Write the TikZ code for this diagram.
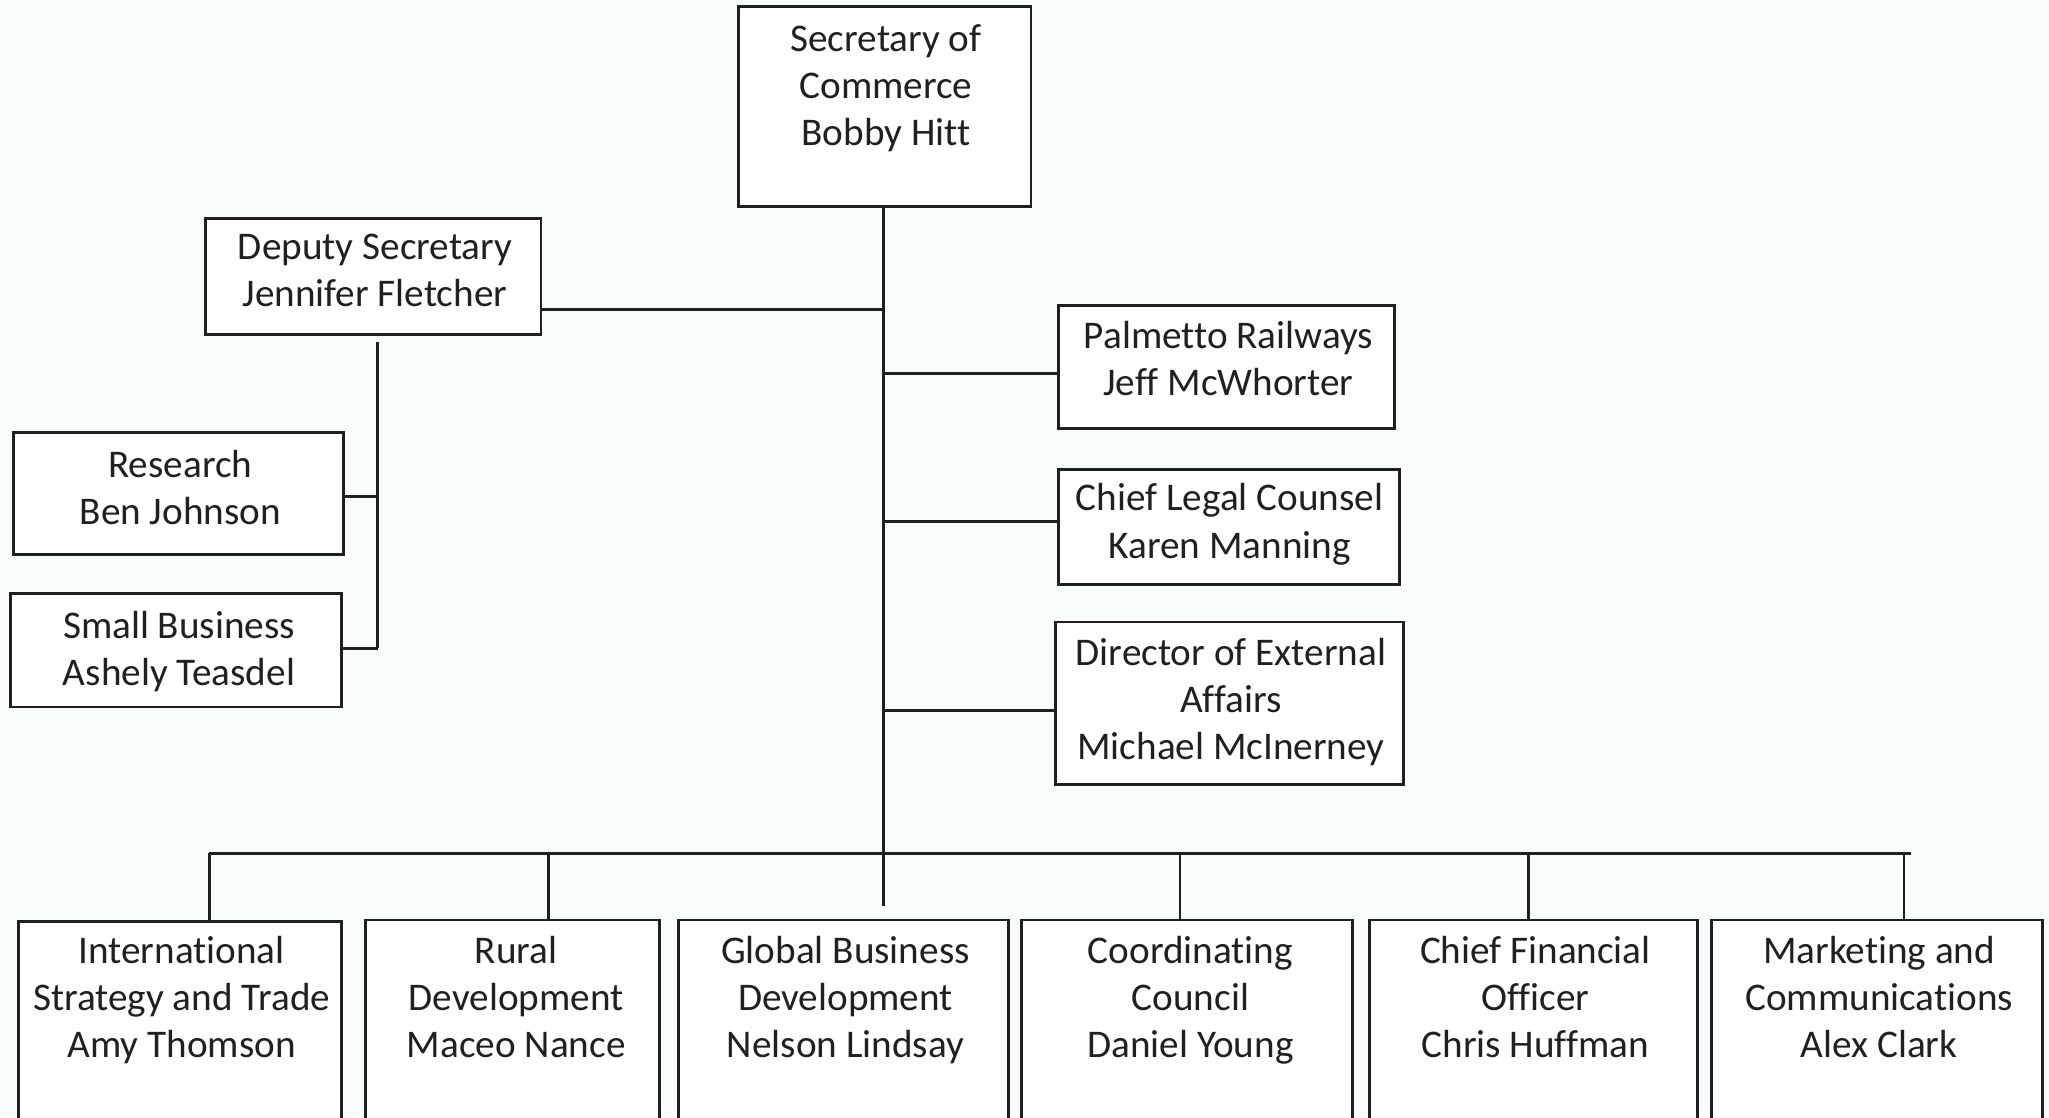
\documentclass[tikz,border=0pt]{standalone}
\usepackage{fontspec}
\setmainfont{Carlito}[Ligatures=NoCommon]
\definecolor{bgc}{HTML}{F8FCFD}
\definecolor{ink}{HTML}{202020}
\begin{document}
\begin{tikzpicture}[x=1pt,y=-1pt,
  box/.style={draw=ink, line width=2.2pt, fill=white, rectangle, inner sep=0pt},
  lbl/.style={font=\fontsize{30}{36}\selectfont, text=ink, align=center, anchor=north, inner sep=0pt, execute at begin node=\strut},
  conn/.style={draw=ink, line width=2.2pt}]
\fill[bgc] (0,0) rectangle (1568,855);
\useasboundingbox (0,0) rectangle (1568,855);
\clip (0,0) rectangle (1568,855);
% boxes
\node[box, minimum width=224pt, minimum height=153pt] (sec) at (677,81.5) {};
\node[box, minimum width=257pt, minimum height=89pt] (dep) at (285.5,211.5) {};
\node[box, minimum width=253pt, minimum height=93pt] (res) at (136.5,377.5) {};
\node[box, minimum width=253pt, minimum height=87pt] (sb) at (134.5,497.5) {};
\node[box, minimum width=257pt, minimum height=94pt] (pal) at (938.5,281) {};
\node[box, minimum width=261pt, minimum height=88pt] (leg) at (940.5,403) {};
\node[box, minimum width=266pt, minimum height=124pt] (dir) at (941,538) {};
\node[box, minimum width=247pt, minimum height=176pt] (intl) at (137.5,793) {};
\node[box, minimum width=225pt, minimum height=176pt] (rur) at (392.5,792) {};
\node[box, minimum width=253pt, minimum height=176pt] (glob) at (645.5,792) {};
\node[box, minimum width=253pt, minimum height=176pt] (coord) at (908.5,792) {};
\node[box, minimum width=251pt, minimum height=176pt] (cfo) at (1173.5,792) {};
\node[box, minimum width=253pt, minimum height=176pt] (mkt) at (1436.5,792) {};
% labels
\node[lbl] (tsec) at (678,18.8) {Secretary of\\Commerce\\Bobby Hitt};
\node[lbl] (tdep) at (287,178.8) {Deputy Secretary\\Jennifer Fletcher};
\node[lbl] (tres) at (138,344) {Research\\Ben Johnson};
\node[lbl] (tsb) at (137,467.5) {Small Business\\Ashely Teasdel};
\node[lbl] (tpal) at (940,246) {Palmetto Railways\\Jeff McWhorter};
\node[lbl] (tleg) at (941,370) {Chief Legal Counsel\\Karen Manning};
\node[lbl] (tdir) at (942,488.5) {Director of External\\Affairs\\Michael McInerney};
\node[lbl] (tintl) at (139,716) {International\\Strategy and Trade\\Amy Thomson};
\node[lbl] (trur) at (395,716) {Rural\\Development\\Maceo Nance};
\node[lbl] (tglob) at (647,716) {Global Business\\Development\\Nelson Lindsay};
\node[lbl] (tcoord) at (911,716) {Coordinating\\Council\\Daniel Young};
\node[lbl] (tcfo) at (1175,716) {Chief Financial\\Officer\\Chris Huffman};
\node[lbl] (tmkt) at (1438,716) {Marketing and\\Communications\\Alex Clark};
% junction coordinates
\coordinate (tb) at (676,693);
\coordinate (dj) at (676,237);
\coordinate (pj) at (676,286);
\coordinate (lj) at (676,399);
\coordinate (rj) at (676,544);
\coordinate (dtop) at (289,262);
\coordinate (dbot) at (289,496);
\coordinate (resj) at (289,380);
\coordinate (busL) at (160,653);
\coordinate (busR) at (1462,653);
\coordinate (b1) at (160,653);
\coordinate (b2) at (420,653);
\coordinate (b4) at (903,653);
\coordinate (b5) at (1170,653);
\coordinate (b6) at (1457,653);
% connectors
\draw[conn] (sec.south -| tb) -- (tb);
\draw[conn] (dj -| dep.east) -- (dj);
\draw[conn] (pj) -- (pj -| pal.west);
\draw[conn] (lj) -- (lj -| leg.west);
\draw[conn] (rj) -- (rj -| dir.west);
\draw[conn] (dtop) -- (dbot);
\draw[conn] (resj -| res.east) -- (resj);
\draw[conn] (dbot -| sb.east) -- (dbot);
\draw[conn] (busL) -- (busR);
\draw[conn] (b1) -- (b1 |- intl.north);
\draw[conn] (b2) -- (b2 |- rur.north);
\draw[conn] (b4) -- (b4 |- coord.north);
\draw[conn] (b5) -- (b5 |- cfo.north);
\draw[conn] (b6) -- (b6 |- mkt.north);
\end{tikzpicture}
\end{document}
